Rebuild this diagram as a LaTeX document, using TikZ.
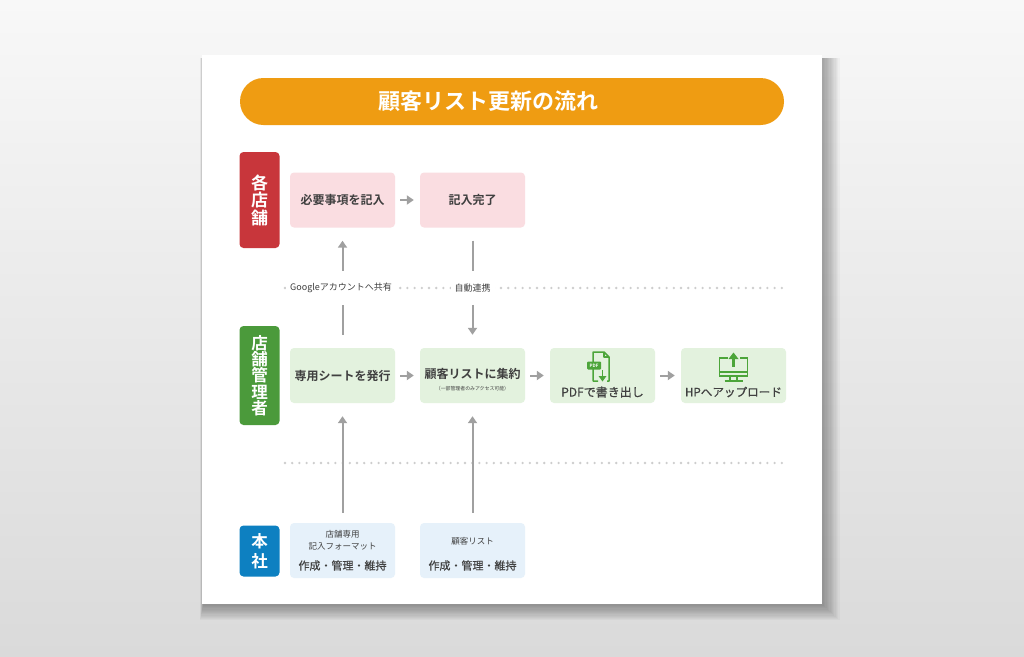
\documentclass[tikz,border=0pt]{standalone}
\usepackage{fontspec}
\setmainfont{Noto Sans CJK JP}[BoldFont={Noto Sans CJK JP Bold}]
\newfontfamily\medfont{Noto Sans CJK JP}[FakeBold=0.6]
\usetikzlibrary{arrows.meta}
\definecolor{bgtop}{HTML}{F8F8F8}
\definecolor{bgbot}{HTML}{DADADA}
\definecolor{titleor}{HTML}{EF9C12}
\definecolor{redlbl}{HTML}{C8363B}
\definecolor{greenlbl}{HTML}{4B9A3B}
\definecolor{bluelbl}{HTML}{0D80C1}
\definecolor{pinkbox}{HTML}{FADDE1}
\definecolor{greenbox}{HTML}{E3F2DE}
\definecolor{bluebox}{HTML}{E6F1FA}
\definecolor{txt}{HTML}{404040}
\definecolor{arrgray}{HTML}{A0A0A0}
\definecolor{dotgray}{HTML}{CDCDCD}
\definecolor{icongreen}{HTML}{4CA53A}
\tikzset{
  flowbox/.style={rounded corners=4pt, minimum width=105pt, minimum height=55pt, inner sep=0pt, text=txt, align=center},
  pinkstep/.style={flowbox, fill=pinkbox, font=\fontsize{12}{14}\selectfont\bfseries},
  greenstep/.style={flowbox, fill=greenbox, font=\fontsize{12}{14}\selectfont\bfseries},
  bluestep/.style={flowbox, fill=bluebox},
  sidelbl/.style={rounded corners=4pt, minimum width=40pt, inner sep=0pt, text=white, align=center},
  arr/.style={draw=arrgray, line width=2pt, -{Triangle[length=7pt,width=9pt]}},
  plainline/.style={draw=arrgray, line width=2pt},
  dotline/.style={draw=dotgray, line width=2.6pt, line cap=round, dash pattern=on 0pt off 7.2pt},
  dotlabel/.style={fill=white, inner xsep=4pt, inner ysep=2pt, text=txt, font=\fontsize{9}{10}\selectfont},
  iconline/.style={draw=icongreen, line width=1.5pt},
}
\begin{document}
\begin{tikzpicture}[x=1pt,y=-1pt]
\useasboundingbox (0,0) rectangle (1024,656);
\shade[top color=bgtop,bottom color=bgbot] (0,0) rectangle (1024,656);
% soft card shadow (right and bottom)
\foreach \i in {0,...,12}{
  \fill[black,opacity=0.026] (203-0.25*\i,58) rectangle (824+1.3*\i,606+1.2*\i);
}
\fill[white] (202,55) rectangle (822,604);

% title
\node[fill=titleor, rounded corners=23.5pt, minimum width=544pt, minimum height=47pt, inner sep=0pt,
      text=white, font=\fontsize{22}{24}\selectfont\bfseries] (title) at (512,101.5)
      {顧客リスト更新の流れ\hspace*{48pt}};

% side labels
\node[sidelbl, fill=redlbl, minimum height=96pt, font=\fontsize{17}{17.5}\selectfont\bfseries] (shop) at (259.5,200) {各\\店\\舗};
\node[sidelbl, fill=greenlbl, minimum height=99pt, font=\fontsize{16.5}{16.3}\selectfont\bfseries] (mgr) at (259.5,375.5) {店\\舗\\管\\理\\者};
\node[sidelbl, fill=bluelbl, minimum height=51pt, font=\fontsize{16.5}{20}\selectfont\bfseries] (hq) at (259.5,551) {本\\社};

% dotted separators
\coordinate (d1a) at (285,288);
\coordinate (d1b) at (784,288);
\coordinate (d2a) at (285,463);
\coordinate (d2b) at (784,463);
\draw[dotline] (d1a) -- (d1b);
\draw[dotline] (d2a) -- (d2b);
\node[dotlabel] (share) at (341,288) {Googleアカウントへ共有};
\node[dotlabel] (auto) at (472.5,288) {自動連携};

% row 1
\node[pinkstep] (a1) at (342.5,200) {必要事項を記入};
\node[pinkstep] (a2) at (472.5,200) {記入完了};

% row 2
\node[greenstep] (b1) at (342.5,375.5) {専用シートを発行};
\node[greenstep] (b2) at (472.5,375.5) {};
\node[text=txt, font=\fontsize{12}{14}\selectfont\bfseries, inner sep=0pt] (b2t) at (472.5,373.5) {顧客リストに集約};
\node[text=txt, font=\fontsize{4.9}{6}\selectfont, inner sep=0pt] (b2s) at (472.5,389) {（一部管理者のみアクセス可能）};
\node[greenstep] (b3) at (602.5,375.5) {};
\node[text=txt, font=\fontsize{12}{14}\selectfont\medfont, inner sep=0pt] (b3t) at (602.5,392) {PDFで書き出し};
\node[greenstep] (b4) at (733.5,375.5) {};
\node[text=txt, font=\fontsize{11.6}{14}\selectfont\medfont, inner sep=0pt] (b4t) at (733.5,392) {HPへアップロード};

% row 3
\node[bluestep] (c1) at (342.5,550.5) {};
\node[text=txt, font=\fontsize{8.5}{12}\selectfont, align=center, inner sep=0pt] (c1a) at (342.5,540) {店舗専用\\記入フォーマット};
\node[text=txt, font=\fontsize{11}{13}\selectfont\medfont, inner sep=0pt] (c1b) at (342.5,565.5) {作成・管理・維持};
\node[bluestep] (c2) at (472.5,550.5) {};
\node[text=txt, font=\fontsize{8.5}{12}\selectfont, inner sep=0pt] (c2a) at (472.5,541) {顧客リスト};
\node[text=txt, font=\fontsize{11}{13}\selectfont\medfont, inner sep=0pt] (c2b) at (472.5,565.5) {作成・管理・維持};

% horizontal arrows
\draw[arr] ([xshift=5pt]a1.east) -- ([xshift=-6pt]a2.west);
\draw[arr] ([xshift=5pt]b1.east) -- ([xshift=-6pt]b2.west);
\draw[arr] ([xshift=5pt]b2.east) -- ([xshift=-6pt]b3.west);
\draw[arr] ([xshift=5pt]b3.east) -- ([xshift=-6pt]b4.west);

% vertical arrows between row 1 and row 2
\draw[plainline] ([yshift=13pt]b1.north) -- ([yshift=43pt]b1.north);
\draw[arr] ([yshift=-43pt]a1.south) -- ([yshift=-13pt]a1.south);
\draw[plainline] ([yshift=-13pt]a2.south) -- ([yshift=-43pt]a2.south);
\draw[arr] ([yshift=43pt]b2.north) -- ([yshift=13pt]b2.north);

% vertical arrows from row 3
\draw[arr] ([yshift=10pt]c1.north) -- ([yshift=-13pt]b1.south);
\draw[arr] ([yshift=10pt]c2.north) -- ([yshift=-13pt]b2.south);

% PDF icon
\begin{scope}[shift={(602.5,367)}]
  \draw[iconline, line join=round] (-4.5,14) -- (-9.5,14) -- (-9.5,-15) -- (1.5,-15) -- (6.5,-10) -- (6.5,14) -- (4.5,14);
  \draw[iconline, line join=round] (1.5,-15) -- (1.5,-10) -- (6.5,-10);
  \fill[icongreen, rounded corners=1pt] (-15.5,-5.5) rectangle (-1.5,2.5);
  \node[text=white, font=\fontsize{4.5}{5}\selectfont\bfseries, inner sep=0pt] (pdflbl) at (-8.5,-1.5) {PDF};
  \draw[icongreen, line width=1.8pt] (0,3) -- (0,10);
  \fill[icongreen] (-4,9) -- (4,9) -- (0,14.5) -- cycle;
\end{scope}

% upload icon
\begin{scope}[shift={(733.5,367)}]
  \draw[iconline, line join=miter] (-6,-9) -- (-14,-9) -- (-14,9) -- (14,9) -- (14,-9) -- (6,-9);
  \draw[iconline] (-14,5) -- (14,5);
  \draw[iconline] (-3.5,9) -- (-3.5,14);
  \draw[iconline] (3.5,9) -- (3.5,14);
  \draw[iconline] (-9,14) -- (9,14);
  \fill[icongreen] (-1.8,-8) rectangle (1.8,0);
  \fill[icongreen] (-5,-8) -- (5,-8) -- (0,-14.5) -- cycle;
\end{scope}
\end{tikzpicture}
\end{document}
